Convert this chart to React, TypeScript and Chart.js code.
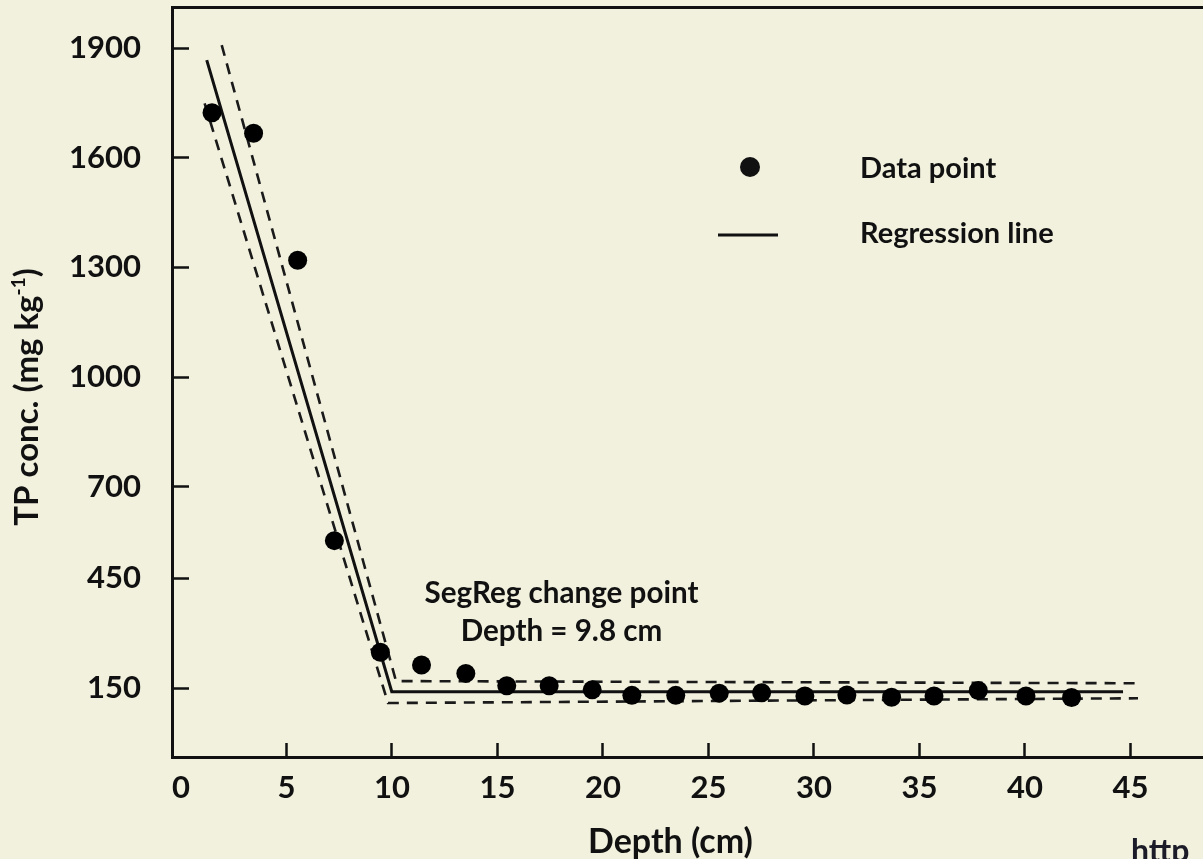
import React, { useEffect, useRef } from "react";
import { Chart, registerables } from "chart.js";

Chart.register(...registerables);

// ---- Data ----
const depthCm = [1.47, 3.44, 5.53, 7.27, 9.45, 11.4, 13.5, 15.44, 17.45, 19.49, 21.37, 23.45, 25.51, 27.52, 29.57, 31.56, 33.68, 35.69, 37.79, 40.05, 42.21];
const tpConc = [1723, 1667, 1320, 553, 248, 213, 190, 156, 156, 145, 130, 130, 136, 137, 128, 131, 125, 128, 143, 128, 124];

const regressionX = [1.22, 9.99, 44.65];
const regressionY = [1867, 140, 140];
const upperBandX = [1.93, 10.19, 45.45];
const upperBandY = [1908, 169, 163];
const lowerBandX = [1.12, 9.81, 45.36];
const lowerBandY = [1749, 109, 122];

const xTickValues = [0, 5, 10, 15, 20, 25, 30, 35, 40, 45];
const yTickValues = [150, 450, 700, 1000, 1300, 1600, 1900];

const xMin = -0.4265;
const xMax = 48.44;
const yMin = -38.6;
const yMax = 2012.3;

const FONT = "Lato";
const INK = "#111111";
const BG = "#f2f1de";

const pairs = (xs: number[], ys: number[]) => xs.map((x, i) => ({ x, y: ys[i] }));

const zeroPadding = (s: any) => {
  s.paddingTop = 0;
  s.paddingBottom = 0;
  s.paddingLeft = 0;
  s.paddingRight = 0;
};

const textPlugin = {
  id: "figureText",
  afterDraw(chart: any) {
    const ctx = chart.ctx as CanvasRenderingContext2D;
    ctx.save();
    ctx.fillStyle = INK;
    ctx.strokeStyle = INK;

    // legend
    ctx.beginPath();
    ctx.arc(750, 167, 10, 0, Math.PI * 2);
    ctx.fill();
    ctx.lineWidth = 3;
    ctx.beginPath();
    ctx.moveTo(718, 235);
    ctx.lineTo(778, 235);
    ctx.stroke();

    ctx.font = `bold 29px ${FONT}`;
    ctx.textAlign = "left";
    ctx.textBaseline = "alphabetic";
    ctx.fillText("Data point", 860, 178);
    ctx.fillText("Regression line", 860, 243);

    // change point annotation
    ctx.textAlign = "center";
    ctx.font = `bold 29.6px ${FONT}`;
    ctx.fillText("SegReg change point", 561.5, 603);
    ctx.fillText("Depth = 9.8 cm", 561.5, 641);

    // x axis title
    ctx.font = `bold 34px ${FONT}`;
    ctx.fillText("Depth (cm)", 670.5, 853);

    // y axis title with superscript
    const main1 = "TP conc. (mg kg";
    const sup = "-1";
    const main2 = ")";
    ctx.font = `bold 33px ${FONT}`;
    const w1 = ctx.measureText(main1).width;
    const w3 = ctx.measureText(main2).width;
    ctx.font = `bold 19px ${FONT}`;
    const w2 = ctx.measureText(sup).width;
    const total = w1 + w2 + w3;
    ctx.translate(38, 397);
    ctx.rotate(-Math.PI / 2);
    ctx.textAlign = "left";
    let cx = -total / 2;
    ctx.font = `bold 33px ${FONT}`;
    ctx.fillText(main1, cx, 0);
    cx += w1;
    ctx.font = `bold 19px ${FONT}`;
    ctx.fillText(sup, cx, -13);
    cx += w2;
    ctx.font = `bold 33px ${FONT}`;
    ctx.fillText(main2, cx, 0);
    ctx.restore();

    // cut-off source watermark
    ctx.save();
    ctx.fillStyle = "#1c1c28";
    ctx.font = `bold 32px ${FONT}`;
    ctx.textAlign = "left";
    ctx.textBaseline = "alphabetic";
    ctx.fillText("http", 1131, 862);
    ctx.restore();
  },
};

export default function App() {
  const canvasRef = useRef<HTMLCanvasElement | null>(null);

  useEffect(() => {
    const canvas = canvasRef.current;
    if (!canvas) return;
    const tickFont = { family: FONT, weight: "bold" as const, size: 31 };

    const chart = new Chart(canvas, {
      type: "scatter",
      data: {
        datasets: [
          {
            label: "Data point",
            data: pairs(depthCm, tpConc),
            showLine: false,
            pointRadius: 9.5,
            pointHoverRadius: 9.5,
            pointBackgroundColor: "#000",
            pointBorderWidth: 0,
            order: 0,
          },
          {
            label: "Regression line",
            data: pairs(regressionX, regressionY),
            showLine: true,
            borderColor: INK,
            borderWidth: 3,
            pointRadius: 0,
            tension: 0,
            order: 1,
          },
          {
            label: "Upper band",
            data: pairs(upperBandX, upperBandY),
            showLine: true,
            borderColor: "#1a1a1a",
            borderWidth: 2.6,
            borderDash: [11, 8],
            pointRadius: 0,
            tension: 0,
            order: 2,
          },
          {
            label: "Lower band",
            data: pairs(lowerBandX, lowerBandY),
            showLine: true,
            borderColor: "#1a1a1a",
            borderWidth: 2.6,
            borderDash: [11, 8],
            pointRadius: 0,
            tension: 0,
            order: 2,
          },
        ],
      },
      options: {
        animation: false,
        responsive: false,
        events: [],
        layout: { autoPadding: false, padding: { top: 7, left: 0, right: 0, bottom: 0 } },
        plugins: {
          legend: { display: false },
          tooltip: { enabled: false },
        },
        scales: {
          x: {
            type: "linear",
            position: "bottom",
            min: xMin,
            max: xMax,
            afterBuildTicks: (s: any) => {
              s.ticks = xTickValues.map((v) => ({ value: v }));
            },
            afterFit: (s: any) => {
              s.height = 102;
              zeroPadding(s);
            },
            grid: {
              drawOnChartArea: false,
              drawTicks: true,
              tickLength: -14,
              tickWidth: 2.5,
              tickColor: (c: any) => (c.tick && c.tick.value === 0 ? "rgba(0,0,0,0)" : INK),
            },
            border: { display: true, color: INK, width: 3 },
            ticks: {
              padding: 26,
              color: INK,
              font: tickFont,
              maxRotation: 0,
              autoSkip: false,
              callback: (v: any) => String(v),
            },
          },
          x2: {
            type: "linear",
            position: "top",
            min: xMin,
            max: xMax,
            afterFit: (s: any) => {
              s.height = 0;
              zeroPadding(s);
            },
            grid: { display: false, drawTicks: false },
            border: { display: true, color: INK, width: 3 },
            ticks: { display: false },
          },
          y: {
            type: "linear",
            position: "left",
            min: yMin,
            max: yMax,
            afterBuildTicks: (s: any) => {
              s.ticks = yTickValues.map((v) => ({ value: v }));
            },
            afterFit: (s: any) => {
              s.width = 172;
              zeroPadding(s);
            },
            grid: {
              drawOnChartArea: false,
              drawTicks: true,
              tickLength: -17,
              tickWidth: 2.5,
              tickColor: INK,
            },
            border: { display: true, color: INK, width: 3 },
            ticks: {
              padding: 48,
              color: INK,
              font: tickFont,
              autoSkip: false,
              callback: (v: any) => String(v),
            },
          },
        },
      },
      plugins: [textPlugin],
    } as any);

    return () => {
      chart.destroy();
    };
  }, []);

  return (
    <div
      style={{
        position: "fixed",
        left: 0,
        top: 0,
        width: 1203,
        height: 859,
        background: BG,
        overflow: "hidden",
      }}
    >
      <canvas ref={canvasRef} width={1203} height={859} style={{ display: "block", width: 1203, height: 859 }} />
    </div>
  );
}
